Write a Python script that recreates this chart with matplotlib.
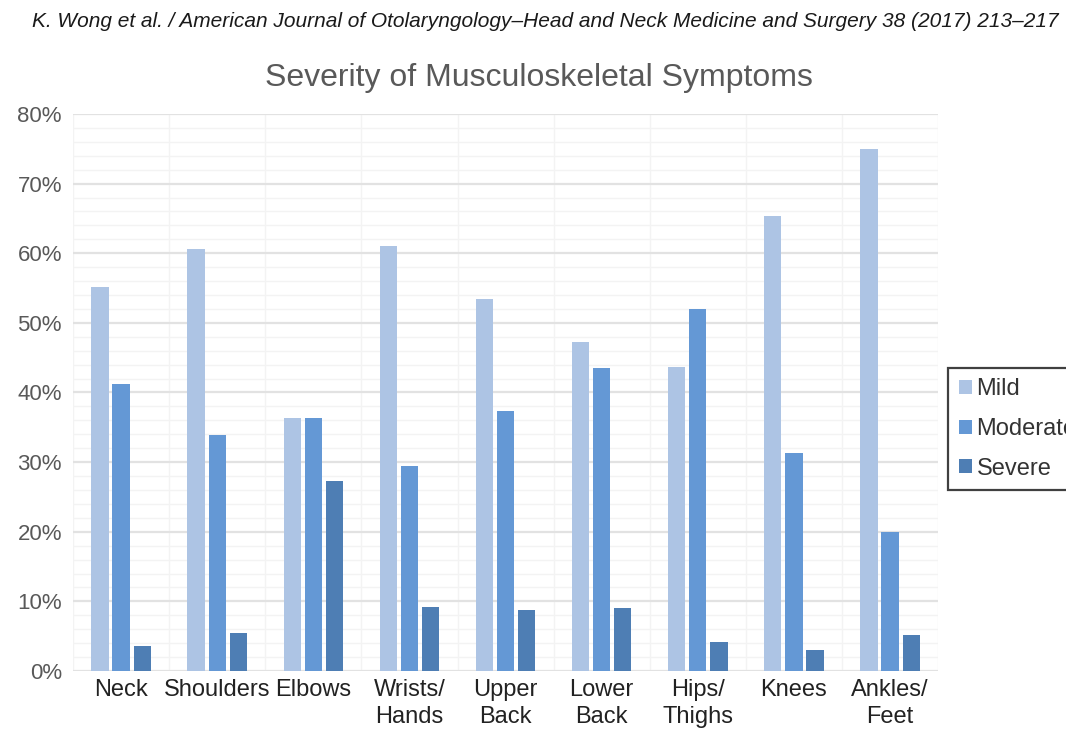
import numpy as np
import matplotlib; matplotlib.use("Agg")
import matplotlib.pyplot as plt
from matplotlib.patches import Patch, Rectangle
from matplotlib.ticker import MultipleLocator, FuncFormatter

plt.rcParams["font.family"] = ["Liberation Sans", "DejaVu Sans"]

# Share of respondents (%) reporting each severity, by body region
regions  = ["Neck", "Shoulders", "Elbows", "Wrists/\nHands", "Upper\nBack",
            "Lower\nBack", "Hips/\nThighs", "Knees", "Ankles/\nFeet"]
mild     = [55.1, 60.6, 36.3, 61.0, 53.4, 47.2, 43.7, 65.4, 74.9]
moderate = [41.2, 33.9, 36.3, 29.5, 37.4, 43.5, 52.0, 31.3, 19.9]
severe   = [3.6, 5.4, 27.3, 9.2, 8.8, 9.0, 4.1, 3.0, 5.1]

series = [("Mild", mild, "#adc4e4"),
          ("Moderate", moderate, "#6498d5"),
          ("Severe", severe, "#4e7eb4")]

fig = plt.figure(figsize=(10.91, 7.31), dpi=100)
ax = fig.add_axes([0.0669, 0.0821, 0.793, 0.762])

x = np.arange(len(regions))
w, step = 0.18, 0.22
for k, (name, vals, col) in enumerate(series):
    ax.bar(x + (k - 1) * step, vals, w, color=col, label=name, zorder=3)

ax.set_xlim(-0.5, len(regions) - 0.5)
ax.set_ylim(0, 80)

# grid: solid major lines every 10 %, faint minor mesh
ax.yaxis.set_major_locator(MultipleLocator(10))
ax.yaxis.set_minor_locator(MultipleLocator(2))
ax.xaxis.set_minor_locator(MultipleLocator(0.5))
ax.grid(axis="y", which="major", color="#e2e2e2", lw=1.6, zorder=0)
ax.grid(axis="y", which="minor", color="#f3f3f3", lw=1.0, zorder=0)
ax.grid(axis="x", which="minor", color="#f3f3f3", lw=1.0, zorder=0)
ax.set_axisbelow(True)
for sp in ax.spines.values():
    sp.set_visible(False)

ax.yaxis.set_major_formatter(FuncFormatter(lambda v, _: f"{v:.0f}%"))
ax.tick_params(axis="y", which="both", length=0, labelsize=16,
               labelcolor="#595959", pad=8)
ax.set_xticks(x)
ax.set_xticklabels(regions, fontsize=17, color="#222222", linespacing=1.25)
ax.tick_params(axis="x", which="both", length=0, pad=6)

fig.text(0.494, 0.893, "Severity of Musculoskeletal Symptoms",
         ha="center", va="center", fontsize=23, color="#595959")
fig.text(0.5, 0.970,
         "K. Wong et al. / American Journal of Otolaryngology\u2013Head and Neck "
         "Medicine and Surgery 38 (2017) 213\u2013217",
         ha="center", va="center", fontsize=15, style="italic",
         color="#1a1a1a")

handles = [Patch(facecolor=c, label=n) for n, _, c in series]
leg = fig.legend(handles=handles, loc="upper left",
                 bbox_to_anchor=(0.869, 0.497), fontsize=17,
                 frameon=True, fancybox=False, framealpha=1,
                 edgecolor="#404040", handlelength=0.55, handleheight=0.55,
                 handletextpad=0.2, labelspacing=0.75, borderpad=0.45,
                 borderaxespad=0)
leg.get_frame().set_linewidth(1.6)
for t in leg.get_texts():
    t.set_color("#333333")

# the chart panel ends short of the page edge, trimming the legend box
fig.add_artist(Rectangle((0.977, 0.25), 0.03, 0.35, transform=fig.transFigure,
                         facecolor="white", edgecolor="none", zorder=10))

fig.savefig("out.png", dpi=100)
